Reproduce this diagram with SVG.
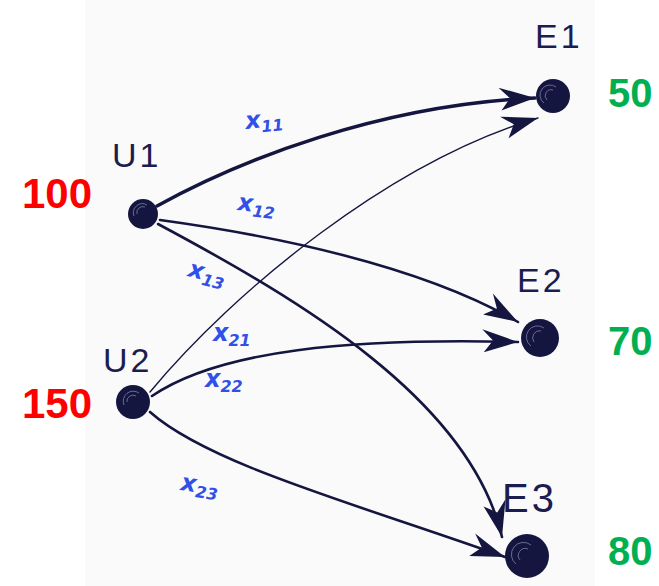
<svg xmlns="http://www.w3.org/2000/svg" width="659" height="586" viewBox="0 0 659 586">
<defs>
<style>
.edge{fill:none;stroke:#15163f;stroke-linecap:round}
.thick{stroke-width:3.4}
.mid{stroke-width:2.6}
.thin{stroke-width:1.4}
.node{fill:#15163f}
.swirl{fill:none;stroke:#8c8fb8;stroke-width:1;opacity:.7}
.nlabel{font-family:"Liberation Sans",Arial,sans-serif;font-size:34px;fill:#1c1d4f;letter-spacing:3px}
.elabel{font-family:"DejaVu Sans",sans-serif;font-style:italic;font-weight:bold;fill:#3050e6;font-size:24px}
.sub{font-size:16px}
.supply{font-family:"Liberation Sans",Arial,sans-serif;font-weight:bold;font-size:42px;fill:#ff0000}
.demand{font-family:"Liberation Sans",Arial,sans-serif;font-weight:bold;font-size:40px;fill:#00b050}
</style>
<marker id="ah" markerUnits="userSpaceOnUse" markerWidth="60" markerHeight="40" refX="0" refY="0" viewBox="-40 -20 60 40" orient="auto">
<path d="M0,0 L-36,-12 L-25,-1 L-34,11 Z" fill="#15163f"/>
</marker>
</defs>
<rect x="85" y="0" width="510" height="586" fill="#fafafb"/>
<g id="connectors">
<path id="e11" class="edge thick" d="M157,206 C240,160 380,105 535,98" marker-end="url(#ah)"/>
<path id="e21" class="edge thin" d="M150,392 C235,290 390,162 538,118" marker-end="url(#ah)"/>
<path id="e12" class="edge mid" d="M160,220 C270,235 420,265 518,322" marker-end="url(#ah)"/>
<path id="e13" class="edge mid" d="M158,224 C300,300 470,400 502,537" marker-end="url(#ah)"/>
<path id="e22" class="edge mid" d="M152,396 C220,350 350,338 518,342" marker-end="url(#ah)"/>
<path id="e23" class="edge mid" d="M150,412 C210,465 360,505 505,557" marker-end="url(#ah)"/>
</g>
<g id="edge-labels">
<text class="elabel" x="246" y="129" transform="rotate(-6 246 129)">x<tspan class="sub" dy="5">11</tspan></text>
<text class="elabel" x="237" y="210" transform="rotate(6 237 210)">x<tspan class="sub" dy="5">12</tspan></text>
<text class="elabel" x="187" y="276" transform="rotate(14 187 276)">x<tspan class="sub" dy="5">13</tspan></text>
<text class="elabel" x="213" y="341">x<tspan class="sub" dy="5">21</tspan></text>
<text class="elabel" x="205" y="387">x<tspan class="sub" dy="5">22</tspan></text>
<text class="elabel" x="180" y="490" transform="rotate(8 180 490)">x<tspan class="sub" dy="5">23</tspan></text>
</g>
<g id="U1">
<circle class="node" cx="143" cy="214" r="15"/>
<path class="swirl" d="M137,214 A6,6 0 0 1 145,207 M134,216 A9,9 0 0 1 147,205"/>
<text class="nlabel" x="112" y="167">U1</text>
<text class="supply" x="22" y="208">100</text>
</g>
<g id="U2">
<circle class="node" cx="133" cy="402" r="17"/>
<path class="swirl" d="M127,402 A6,6 0 0 1 136,396 M124,405 A10,10 0 0 1 139,393"/>
<text class="nlabel" x="103" y="372">U2</text>
<text class="supply" x="22" y="418">150</text>
</g>
<g id="E1">
<circle class="node" cx="553" cy="96" r="17"/>
<path class="swirl" d="M547,100 A6,6 0 0 1 553,90 M544,103 A10,10 0 0 1 556,87"/>
<text class="nlabel" x="535" y="48">E1</text>
<text class="demand" x="608" y="107">50</text>
</g>
<g id="E2">
<circle class="node" cx="540" cy="338" r="19"/>
<path class="swirl" d="M534,342 A7,7 0 0 1 541,331 M531,346 A11,11 0 0 1 544,328"/>
<text class="nlabel" x="517" y="292">E2</text>
<text class="demand" x="608" y="355">70</text>
</g>
<g id="E3">
<circle class="node" cx="527" cy="556" r="22"/>
<path class="swirl" d="M520,560 A7,7 0 0 1 528,549 M516,564 A12,12 0 0 1 531,545"/>
<text class="nlabel" x="502" y="512" style="font-size:40px">E3</text>
<text class="demand" x="608" y="565">80</text>
</g>
</svg>
